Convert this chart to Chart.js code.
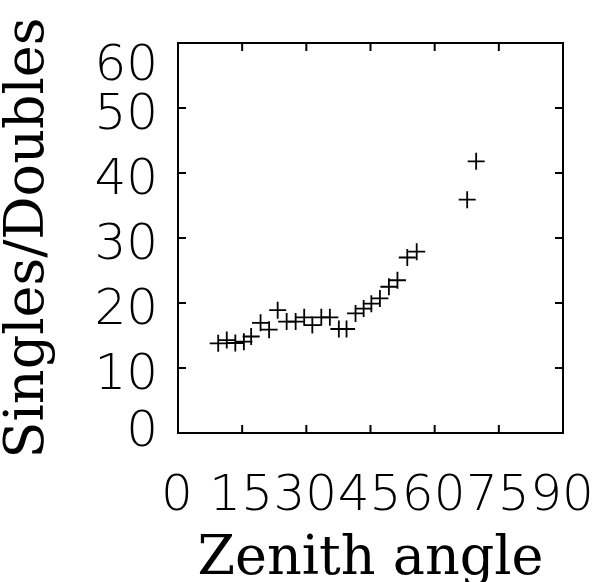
<!DOCTYPE html>
<html><head><meta charset="utf-8">
<script src="https://cdn.jsdelivr.net/npm/chart.js@4.4.1/dist/chart.umd.min.js"></script>
<style>html,body{margin:0;padding:0;background:#fff;}canvas{display:block;}</style>
</head><body>
<canvas id="c" width="596" height="582"></canvas>
<script>
const zenithAngle = [9.4, 11.4, 13.4, 15.4, 17.1, 19.3, 21.3, 23.3, 25.4, 27.5, 29.5, 31.4, 33.5, 35.5, 37.6, 39.4, 41.5, 43.4, 45.2, 47.2, 49.3, 51.3, 53.6, 55.8, 67.6, 69.7];
const singlesOverDoubles = [13.8, 14.3, 13.85, 14.05, 14.85, 16.95, 15.9, 18.9, 17.15, 17.15, 17.8, 16.6, 17.8, 17.8, 16.0, 16.0, 18.4, 19.15, 19.9, 20.7, 22.5, 23.5, 27.0, 27.9, 35.9, 41.8];
const xTicks = [0, 15, 30, 45, 60, 75, 90];
const yTicks = [0, 10, 20, 30, 40, 50, 60];
const xTitle = 'Zenith angle';
const yTitle = 'Singles/Doubles';

const points = zenithAngle.map((x, i) => ({x: x, y: singlesOverDoubles[i]}));

const tickFont = '200 50px "DejaVu Sans Light", "DejaVu Sans ExtraLight", "DejaVu Sans"';
const tickSize = 50;

const framePlugin = {
  id: 'frame',
  afterDraw(chart) {
    const ctx = chart.ctx;
    const a = chart.chartArea;
    const xs = chart.scales.x, ys = chart.scales.y;
    ctx.save();
    ctx.strokeStyle = '#000';
    ctx.lineWidth = 2;
    ctx.strokeRect(a.left, a.top, a.right - a.left, a.bottom - a.top);
    const L = 8;
    ctx.beginPath();
    xs.ticks.forEach(t => {
      if (t.value <= xs.min || t.value >= xs.max) return;
      const px = xs.getPixelForValue(t.value);
      ctx.moveTo(px, a.bottom); ctx.lineTo(px, a.bottom - L);
      ctx.moveTo(px, a.top); ctx.lineTo(px, a.top + L);
    });
    ys.ticks.forEach(t => {
      if (t.value <= ys.min || t.value >= ys.max) return;
      const py = ys.getPixelForValue(t.value);
      ctx.moveTo(a.left, py); ctx.lineTo(a.left + L, py);
      ctx.moveTo(a.right, py); ctx.lineTo(a.right - L, py);
    });
    ctx.stroke();
    // tick labels
    ctx.fillStyle = '#000';
    ctx.font = tickFont;
    ctx.textBaseline = 'alphabetic';
    ctx.textAlign = 'center';
    xs.ticks.forEach(t => {
      const px = xs.getPixelForValue(t.value);
      ctx.fillText(String(t.value), px - 1, a.bottom + 77);
    });
    ctx.textAlign = 'right';
    const half = 0.3645 * tickSize;
    ys.ticks.forEach(t => {
      let cy = ys.getPixelForValue(t.value) + 3;
      cy = Math.max(a.top + 19, Math.min(a.bottom - 5, cy));
      ctx.fillText(String(t.value), a.left - 20, cy + half);
    });
    ctx.restore();
  }
};

new Chart(document.getElementById('c'), {
  type: 'scatter',
  data: {
    datasets: [{
      data: points,
      pointStyle: 'cross',
      pointRadius: 8.5,
      pointHoverRadius: 8.5,
      borderColor: '#000',
      backgroundColor: '#000',
      borderWidth: 1.8,
      pointBorderWidth: 1.8
    }]
  },
  options: {
    responsive: false,
    animation: false,
    events: [],
    layout: {padding: {top: 43, right: 33, left: 0, bottom: 0}},
    plugins: {legend: {display: false}, tooltip: {enabled: false}},
    scales: {
      x: {
        type: 'linear', min: 0, max: 90,
        afterBuildTicks: s => { s.ticks = xTicks.map(v => ({value: v})); },
        afterFit: s => { s.height = 149; },
        ticks: {display: false},
        grid: {display: false},
        border: {display: false},
        title: {display: true, text: xTitle, color: '#000',
          font: {family: '"DejaVu Serif"', size: 54, lineHeight: 1.2}, padding: {top: 0, bottom: -10}}
      },
      y: {
        type: 'linear', min: 0, max: 60,
        afterBuildTicks: s => { s.ticks = yTicks.map(v => ({value: v})); },
        afterFit: s => { s.width = 178; },
        ticks: {display: false},
        grid: {display: false},
        border: {display: false},
        title: {display: true, text: yTitle, color: '#000',
          font: {family: '"DejaVu Serif"', size: 54, lineHeight: 1.2}, padding: {top: -3, bottom: 0}}
      }
    }
  },
  plugins: [framePlugin]
});
</script>
</body></html>
